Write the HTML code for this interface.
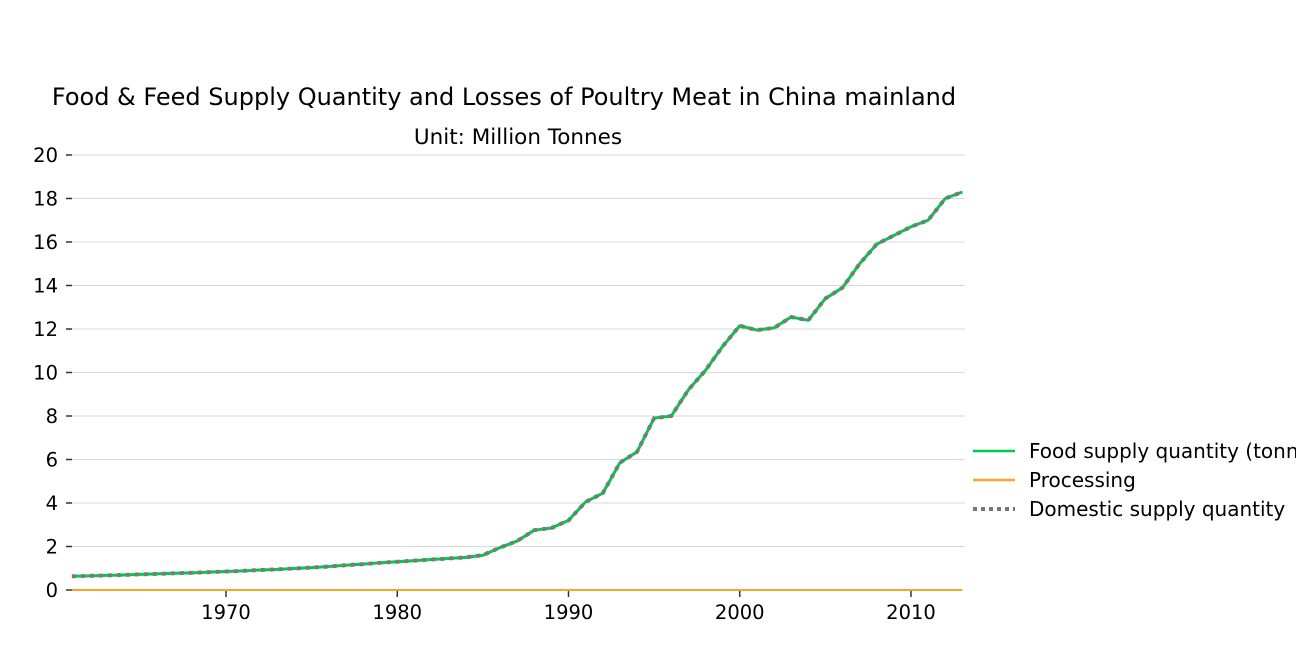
<!DOCTYPE html>
<html><head><meta charset="utf-8"><style>
body{margin:0;background:#fff;font-family:"DejaVu Sans","Liberation Sans",sans-serif;}
svg{display:block}
</style></head><body>
<svg id="chart" width="1296" height="662">
<text x="504" y="105" font-size="24" text-anchor="middle">Food &amp; Feed Supply Quantity and Losses of Poultry Meat in China mainland</text>
<text x="518" y="144" font-size="21.5" text-anchor="middle">Unit: Million Tonnes</text>
<g id="grid"></g><g id="axes"></g><g id="series"></g>
<g>
<line x1="973" y1="451" x2="1015" y2="451" stroke="#00c94a" stroke-width="2.5"/>
<text x="1029" y="458" font-size="20">Food supply quantity (tonnes)</text>
<line x1="973" y1="480" x2="1015" y2="480" stroke="#f5a623" stroke-width="2.5"/>
<text x="1029" y="487" font-size="20">Processing</text>
<line x1="973" y1="509" x2="1015" y2="509" stroke="#777" stroke-width="4" stroke-dasharray="4,4"/>
<text x="1029" y="516" font-size="20">Domestic supply quantity</text>
</g>
</svg>
<script>
const years=[];for(let y=1961;y<=2013;y++)years.push(y);
const foodSupply=[0.63,0.65,0.67,0.69,0.72,0.74,0.77,0.79,0.82,0.85,0.88,0.92,0.95,0.99,1.03,1.08,1.14,1.19,1.25,1.3,1.35,1.4,1.45,1.5,1.6,1.95,2.25,2.75,2.85,3.2,4.05,4.45,5.85,6.35,7.9,8.0,9.2,10.1,11.2,12.15,11.95,12.05,12.55,12.4,13.4,13.9,15.0,15.9,16.3,16.7,17.0,18.0,18.3];
const processing=years.map(()=>0);
const domesticSupply=foodSupply.slice();
const yTicks=[0,2,4,6,8,10,12,14,16,18,20];
const xTicks=[1970,1980,1990,2000,2010];
const NS="http://www.w3.org/2000/svg";
const X=y=>226+(y-1970)*17.125;
const Y=v=>590-v*21.75;
function mk(tag,attrs,parent){const e=document.createElementNS(NS,tag);for(const k in attrs)e.setAttribute(k,attrs[k]);parent.appendChild(e);return e;}
const grid=document.getElementById('grid'),axes=document.getElementById('axes'),ser=document.getElementById('series');
yTicks.forEach(t=>{
 if(t>0){const l=mk('line',{x1:72,x2:965,y1:Y(t),y2:Y(t),stroke:'#d8d8d8','stroke-width':1},grid);
 
 }
 mk('line',{x1:66,x2:72,y1:Y(t),y2:Y(t),stroke:'#333','stroke-width':1.5},axes);
 const tx=mk('text',{x:58,y:Y(t)+7,'font-size':19.5,'text-anchor':'end'},axes);tx.textContent=t;
 
 
});
xTicks.forEach(t=>{
 mk('line',{x1:X(t),x2:X(t),y1:590,y2:597,stroke:'#333','stroke-width':1.5},axes);
 const tx=mk('text',{x:X(t),y:619,'font-size':19.5,'text-anchor':'middle'},axes);tx.textContent=t;
 
 
});
const pts=a=>a.map((v,i)=>X(years[i])+','+Y(v)).join(' ');
const p1=mk('polyline',{points:pts(processing),fill:'none',stroke:'#f5a623','stroke-width':2},ser);


const p2=mk('polyline',{points:pts(foodSupply),fill:'none',stroke:'#00c94a','stroke-width':3,'stroke-linejoin':'round'},ser);


const p3=mk('polyline',{points:pts(domesticSupply),fill:'none',stroke:'#7a7a7a','stroke-width':4,'stroke-dasharray':'4,5'},ser);


</script>
</body></html>
